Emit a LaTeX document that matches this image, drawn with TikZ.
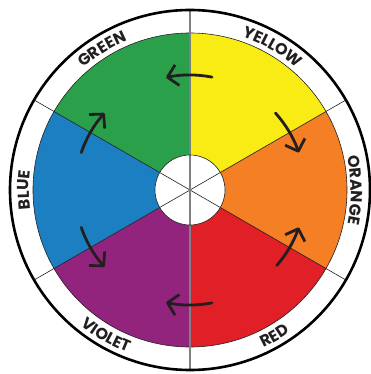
\documentclass[tikz,border=0pt]{standalone}
\usepackage{fontspec}
\newfontfamily\wheelfont{Poppins}
\usepackage{tikz}
\usetikzlibrary{arrows.meta,decorations.text}
\definecolor{wyellow}{RGB}{248,236,20}
\definecolor{worange}{RGB}{244,127,36}
\definecolor{wred}{RGB}{224,31,39}
\definecolor{wviolet}{RGB}{146,36,126}
\definecolor{wblue}{RGB}{27,127,193}
\definecolor{wgreen}{RGB}{42,160,74}
\definecolor{inkc}{RGB}{35,31,32}
\newcommand\labfont{\wheelfont\bfseries\fontsize{16}{16}\selectfont\color{inkc}}

\begin{document}
\begin{tikzpicture}[x=1pt, y=1pt,
    turnarrow/.style={line width=2.8pt, line cap=round, draw=inkc,
        -{Straight Barb[length=10pt,width=21pt,line join=round]}},
    ringlabel/.style={decorate, decoration={text along path, text align=center, text={#1}}}]
    \useasboundingbox (-190,-184) rectangle (180,190);

    % Radii
    \def\rwheel{157}
    \def\rhole{35}
    \def\rring{180}
    \def\rarrow{115}

    % Sectors
    \foreach \s/\c in {30/wyellow, -30/worange, -90/wred, 210/wviolet, 150/wblue, 90/wgreen}
        \fill[\c] (0,0) -- (\s:\rwheel) arc[start angle=\s, delta angle=60, radius=\rwheel] -- cycle;
    \draw[inkc, line width=0.6pt] (0,0) circle (\rwheel);
    \fill[white] (0,0) circle (\rhole);

    % Divider lines
    \draw[inkc, line width=0.6pt] (30:\rring) -- (210:\rring);
    \draw[inkc, line width=0.6pt] (150:\rring) -- (330:\rring);
    \draw[gray, line width=1.2pt] (90:\rring) -- (270:\rring);
    \draw[inkc, line width=0.6pt] (0,0) circle (\rhole);

    % Outer ring
    \draw[black, line width=2.6pt] (0,0) circle (\rring);

    % Arrows
    \foreach \a/\b in {79/102, 42/19, 161/138, 199/222, 281/258, 319/341}
        \draw[turnarrow] (\a:\rarrow) arc[start angle=\a, end angle=\b, radius=\rarrow];

    % Labels
    \path[ringlabel={|\labfont|YELLOW}] (95:162) arc[start angle=95, end angle=25, radius=162];
    \path[ringlabel={|\labfont|GREEN}] (157:162) arc[start angle=157, end angle=87, radius=162];
    \path[ringlabel={|\labfont|ORANGE}] (35:161) arc[start angle=35, end angle=-35, radius=161];
    \path[ringlabel={|\labfont|BLUE}] (215:161) arc[start angle=215, end angle=145, radius=161];
    \path[ringlabel={|\labfont|RED}] (-95:174) arc[start angle=-95, end angle=-25, radius=174];
    \path[ringlabel={|\labfont|VIOLET}] (205:174) arc[start angle=205, end angle=275, radius=174];
\end{tikzpicture}
\end{document}
